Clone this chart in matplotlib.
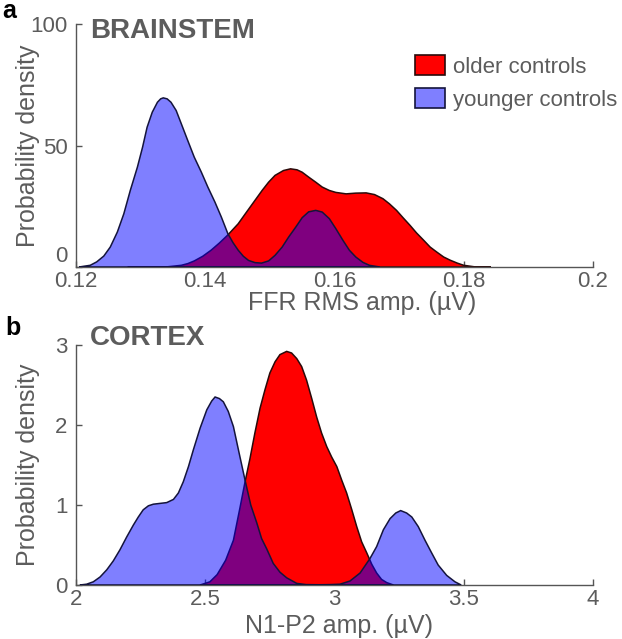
import numpy as np
import matplotlib
matplotlib.use("Agg")
import matplotlib.pyplot as plt
from matplotlib.patches import Patch

plt.rcParams['font.family'] = ['Liberation Sans', 'DejaVu Sans']

# ---- panel a: brainstem (FFR RMS amplitude) ----
ffr_young_x = [0.1205, 0.1212, 0.1222, 0.1232, 0.1243, 0.1253, 0.1264, 0.1274, 0.1284,
               0.1295, 0.1303, 0.1310, 0.1318, 0.1326, 0.1331, 0.1335, 0.1341, 0.1347,
               0.1355, 0.1363, 0.1373, 0.1383, 0.1394, 0.1404, 0.1415, 0.1425, 0.1435,
               0.1443, 0.1451, 0.1459, 0.1467, 0.1477, 0.1487, 0.1498, 0.1508, 0.1519,
               0.1529, 0.1540, 0.1550, 0.1560, 0.1571, 0.1581, 0.1592, 0.1602, 0.1613,
               0.1623, 0.1633, 0.1644, 0.1654, 0.1670]
ffr_young_y = [0, 0.3, 0.7, 2.1, 4.5, 8.2, 14.4, 21.9, 31.5,
               41.1, 49.3, 57.5, 63.7, 67.8, 69.2, 69.6, 69.2, 67.8,
               64.4, 58.9, 52.0, 45.2, 39.0, 32.9, 26.7, 20.5, 13.7,
               10.0, 6.9, 4.4, 2.7, 1.8, 1.6, 2.5, 4.8, 8.2,
               12.3, 16.4, 20.3, 22.7, 23.3, 22.6, 19.9, 15.8, 11.0,
               6.9, 4.1, 1.9, 0.7, 0]
ffr_old_x = [0.1280, 0.1342, 0.1363, 0.1373, 0.1383, 0.1396, 0.1409, 0.1422, 0.1435,
             0.1451, 0.1462, 0.1475, 0.1488, 0.1498, 0.1508, 0.1521, 0.1532, 0.1542,
             0.1550, 0.1560, 0.1571, 0.1581, 0.1592, 0.1602, 0.1618, 0.1633, 0.1649,
             0.1662, 0.1675, 0.1685, 0.1696, 0.1706, 0.1717, 0.1727, 0.1738, 0.1748,
             0.1758, 0.1769, 0.1779, 0.1790, 0.1800, 0.1816, 0.1842]
ffr_old_y = [0, 0.1, 0.7, 1.4, 2.5, 4.4, 6.9, 9.9, 13.2,
             17.8, 21.9, 26.7, 31.5, 34.9, 37.7, 39.7, 40.4, 40.0,
             39.0, 37.0, 34.9, 32.9, 31.5, 30.7, 30.1, 30.4, 30.5,
             29.8, 28.1, 26.0, 23.3, 20.3, 17.1, 14.0, 11.0, 8.2,
             6.2, 4.1, 2.8, 1.6, 0.7, 0.1, 0]

# ---- panel b: cortex (N1-P2 amplitude) ----
n1p2_young_x = [2.015, 2.041, 2.067, 2.093, 2.119, 2.144, 2.170, 2.196, 2.222, 2.241,
                2.260, 2.280, 2.299, 2.325, 2.351, 2.377, 2.396, 2.415, 2.435, 2.454,
                2.480, 2.506, 2.525, 2.538, 2.555, 2.570, 2.589, 2.609, 2.631, 2.654,
                2.676, 2.699, 2.718, 2.738, 2.763, 2.789, 2.815, 2.854, 2.890, 2.940,
                2.983, 3.021, 3.060, 3.099, 3.137, 3.163, 3.189, 3.215, 3.237, 3.256,
                3.279, 3.299, 3.324, 3.350, 3.376, 3.401, 3.434, 3.466, 3.490]
n1p2_young_y = [0, 0.01, 0.04, 0.10, 0.19, 0.30, 0.44, 0.60, 0.75, 0.85,
                0.94, 0.99, 1.01, 1.02, 1.03, 1.07, 1.15, 1.29, 1.48, 1.69,
                1.96, 2.19, 2.30, 2.35, 2.33, 2.29, 2.17, 1.98, 1.65, 1.31,
                1.00, 0.78, 0.58, 0.45, 0.27, 0.16, 0.09, 0.02, 0.005, 0.003,
                0.005, 0.01, 0.05, 0.15, 0.33, 0.48, 0.69, 0.83, 0.90, 0.93,
                0.90, 0.85, 0.73, 0.56, 0.40, 0.25, 0.12, 0.04, 0]
n1p2_old_x = [2.480, 2.518, 2.546, 2.579, 2.609, 2.634, 2.654, 2.673, 2.692, 2.712,
              2.731, 2.750, 2.770, 2.789, 2.815, 2.834, 2.854, 2.873, 2.892, 2.912,
              2.931, 2.950, 2.970, 2.989, 3.009, 3.028, 3.047, 3.067, 3.086, 3.105,
              3.125, 3.144, 3.163, 3.182, 3.202, 3.228]
n1p2_old_y = [0, 0.04, 0.13, 0.31, 0.56, 0.96, 1.29, 1.58, 1.90, 2.21,
              2.44, 2.65, 2.79, 2.88, 2.92, 2.90, 2.83, 2.73, 2.56, 2.33,
              2.10, 1.90, 1.73, 1.60, 1.48, 1.31, 1.15, 0.94, 0.73, 0.54,
              0.40, 0.26, 0.15, 0.07, 0.03, 0]

legend_labels = ['older controls', 'younger controls']

red = (1, 0, 0)
blue = (0, 0, 1, 0.5)
red_edge = '#2a0a0a'
blue_edge = '#14143c'
grey = '#5c5c5c'

fig = plt.figure(figsize=(6.22, 6.39), dpi=100)
W, H = 622, 639

def px_axes(l, t, r, b):
    return fig.add_axes([l / W, 1 - b / H, (r - l) / W, (b - t) / H])

ax1 = px_axes(76, 24, 593, 267)
ax2 = px_axes(76, 345, 593, 585)

def style(ax):
    ax.spines['top'].set_visible(False)
    ax.spines['right'].set_visible(False)
    for s in ['left', 'bottom']:
        ax.spines[s].set_color('#555555')
        ax.spines[s].set_linewidth(1.0)
    ax.tick_params(direction='in', length=4, width=1, color='#555555',
                   labelcolor=grey, labelsize=16)
    ax.tick_params(axis='x', pad=3)
    ax.tick_params(axis='y', pad=6)

def draw(ax, ox, oy, yx, yy):
    ax.fill(ox, oy, facecolor=red, edgecolor=red_edge, lw=1.1, zorder=2)
    ax.fill(yx, yy, facecolor=blue, edgecolor=blue_edge, lw=1.1, zorder=3)

draw(ax1, ffr_old_x, ffr_old_y, ffr_young_x, ffr_young_y)
draw(ax2, n1p2_old_x, n1p2_old_y, n1p2_young_x, n1p2_young_y)

style(ax1)
ax1.set_xlim(0.12, 0.2)
ax1.set_ylim(0, 100)
ax1.set_xticks([0.12, 0.14, 0.16, 0.18, 0.2])
ax1.set_xticklabels(['0.12', '0.14', '0.16', '0.18', '0.2'])
ax1.set_yticks([0, 50, 100])
ax1.set_xlabel('FFR RMS amp. (µV)', fontsize=18, color=grey, va='top')
ax1.set_ylabel('Probability density', fontsize=18, color=grey)
ax1.xaxis.set_label_coords(0.553, -0.1)
ax1.yaxis.set_label_coords(-0.07, 0.5)
ax1.get_yticklabels()[0].set_va('bottom')

style(ax2)
ax2.set_xlim(2, 4)
ax2.set_ylim(0, 3)
ax2.set_xticks([2, 2.5, 3, 3.5, 4])
ax2.set_xticklabels(['2', '2.5', '3', '3.5', '4'])
ax2.set_yticks([0, 1, 2, 3])
ax2.set_xlabel('N1-P2 amp. (µV)', fontsize=18, color=grey, va='top')
ax2.set_ylabel('Probability density', fontsize=18, color=grey)
ax2.xaxis.set_label_coords(0.509, -0.12)
ax2.yaxis.set_label_coords(-0.07, 0.5)
ax2.get_yticklabels()[0].set_va('center_baseline')

# legend
handles = [Patch(facecolor=red, edgecolor=red_edge, lw=1.2),
           Patch(facecolor=blue, edgecolor=blue_edge, lw=1.2)]
leg = ax1.legend(handles, legend_labels, loc='upper left',
                 bbox_to_anchor=((415 - 76) / 517, (267 - 55) / 243),
                 frameon=False, fontsize=16, borderpad=0, borderaxespad=0,
                 handlelength=1.35, handleheight=1.0, handletextpad=0.36,
                 labelspacing=0.48)
for t in leg.get_texts():
    t.set_color(grey)

# panel letters and titles
fig.text(2 / W, 1 - 18 / H, 'a', fontsize=18, fontweight='bold', color='black', va='baseline')
fig.text(5 / W, 1 - 335 / H, 'b', fontsize=18, fontweight='bold', color='black', va='baseline')
fig.text(90 / W, 1 - 38 / H, 'BRAINSTEM', fontsize=20, fontweight='bold', color=grey, va='baseline')
fig.text(90 / W, 1 - 345 / H, 'CORTEX', fontsize=20, fontweight='bold', color=grey, va='baseline')

fig.savefig('out.png', dpi=100)
